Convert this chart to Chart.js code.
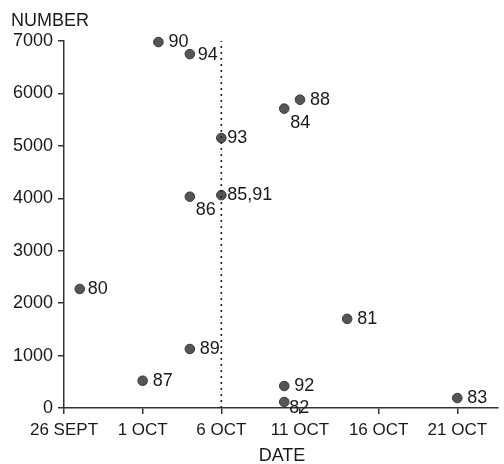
<!DOCTYPE html>
<html><head><meta charset="utf-8">
<script src="https://cdn.jsdelivr.net/npm/chart.js@4"></script>
<style>html,body{margin:0;padding:0;background:#fff}#wrap{width:504px;height:464px;position:relative}</style>
</head><body><div id="wrap"><canvas id="c" width="504" height="464"></canvas></div>
<script>
// ---- data ----
const pointLabels  = ['80', '81', '82', '83', '84', '85,91', '86', '87', '88', '89', '90', '92', '93', '94'];
const pointDays    = [1, 18, 14, 25, 14, 10, 8, 5, 15, 8, 6, 14, 10, 8];   // days after 26 Sept
const pointNumbers = [2270, 1700, 115, 190, 5710, 4060, 4030, 520, 5880, 1125, 6980, 420, 5150, 6750];
const dateTickDays   = [0, 5, 10, 15, 20, 25];
const dateTickLabels = ['26 SEPT', '1 OCT', '6 OCT', '11 OCT', '16 OCT', '21 OCT'];
const numberTicks    = [0, 1000, 2000, 3000, 4000, 5000, 6000, 7000];
const markerDay = 10;  // dotted reference line at 6 OCT
const xTitle = 'DATE';
const yTitle = 'NUMBER';

// ---- style ----
const FONT = "'Liberation Sans', Arial, sans-serif";
const TXT = '#1a1a1a';
const labelOffsets = { '86': [6, 13], '84': [6, 14], '82': [5, 6], '93': [6, 0], '85,91': [6, 0], '94': [8, 1], '80': [8, 0] };

const labelPlugin = {
  id: 'pointText',
  afterDatasetsDraw(chart) {
    const ctx = chart.ctx;
    const meta = chart.getDatasetMeta(1);
    ctx.save();
    ctx.font = '18px ' + FONT;
    ctx.fillStyle = TXT;
    ctx.textAlign = 'left';
    ctx.textBaseline = 'middle';
    meta.data.forEach((el, i) => {
      const lab = pointLabels[i];
      const off = labelOffsets[lab] || [10, 0];
      ctx.fillText(lab, el.x + off[0], el.y + off[1]);
    });
    // axis titles
    ctx.textAlign = 'left';
    ctx.fillText(yTitle, 11, 21);
    ctx.textAlign = 'center';
    ctx.fillText(xTitle, 282, 456);
    ctx.restore();
  }
};

new Chart(document.getElementById('c'), {
  type: 'scatter',
  data: {
    datasets: [
      {
        type: 'line',
        data: [{ x: markerDay, y: 0 }, { x: markerDay, y: numberTicks[numberTicks.length - 1] }],
        borderColor: '#222',
        borderWidth: 1.6,
        borderDash: [2, 4],
        pointRadius: 0,
        fill: false,
        clip: false
      },
      {
        data: pointDays.map((d, i) => ({ x: d, y: pointNumbers[i] })),
        backgroundColor: '#555',
        borderColor: '#3a3a3a',
        borderWidth: 1,
        pointRadius: 4.8,
        clip: false
      }
    ]
  },
  options: {
    responsive: false,
    animation: false,
    events: [],
    layout: { padding: { top: 41, right: 0, left: 0, bottom: 0 } },
    plugins: { legend: { display: false }, tooltip: { enabled: false }, title: { display: false } },
    scales: {
      x: {
        type: 'linear',
        min: 0,
        max: 27.6,
        afterFit(s) { s.height = 56; },
        afterBuildTicks(s) { s.ticks = dateTickDays.map(v => ({ value: v })); },
        ticks: {
          autoSkip: false,
          maxRotation: 0,
          padding: 6,
          color: TXT,
          font: { family: FONT, size: 17 },
          callback: (v) => { const k = dateTickDays.indexOf(v); return k >= 0 ? dateTickLabels[k] : ''; }
        },
        grid: { drawOnChartArea: false, drawTicks: true, tickLength: 6, color: '#333', lineWidth: 1.5 },
        border: { display: true, color: '#333', width: 1.5 }
      },
      y: {
        type: 'linear',
        min: 0,
        max: 7000,
        afterFit(s) { s.width = 64; },
        afterBuildTicks(s) { s.ticks = numberTicks.map(v => ({ value: v })); },
        ticks: {
          padding: 5,
          color: TXT,
          font: { family: FONT, size: 18 },
          callback: (v) => String(v)
        },
        grid: { drawOnChartArea: false, drawTicks: true, tickLength: 6, color: '#333', lineWidth: 1.5 },
        border: { display: true, color: '#333', width: 1.5 }
      }
    }
  },
  plugins: [labelPlugin]
});
</script>
</body></html>
